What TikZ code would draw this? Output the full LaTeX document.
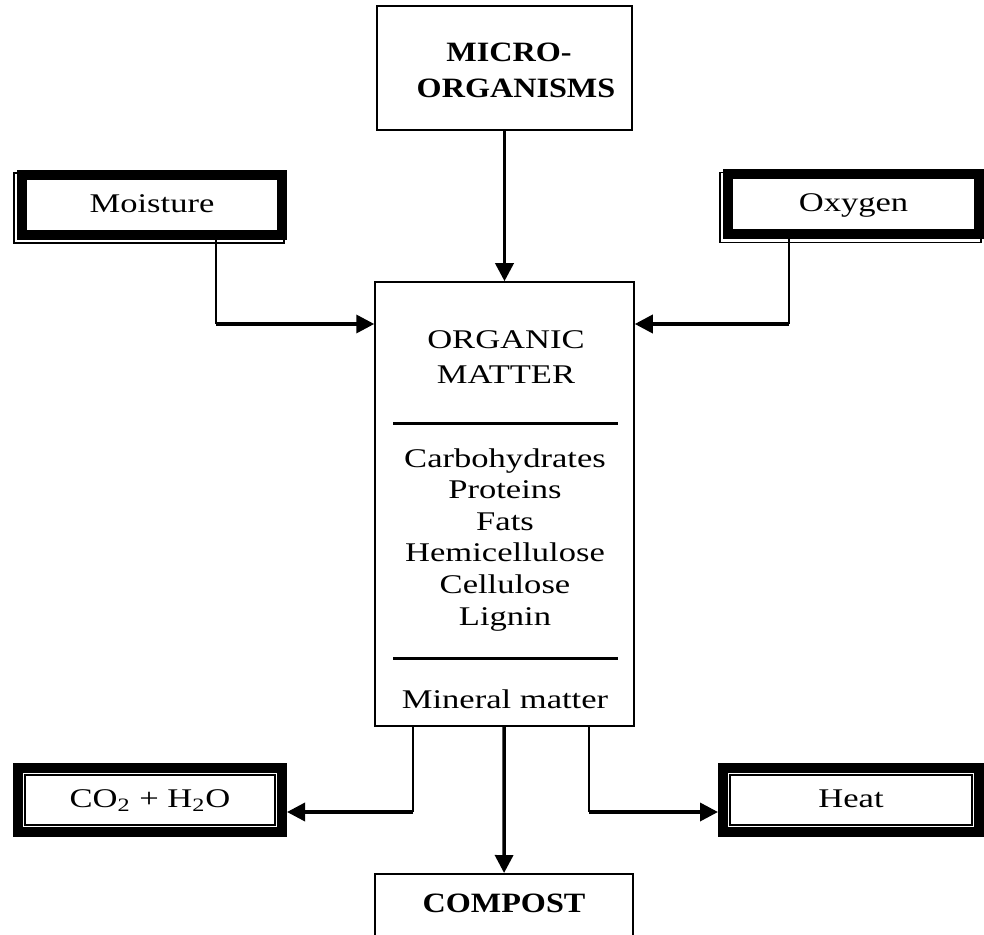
\documentclass[tikz,border=0pt]{standalone}
\usepackage{fontspec}
\setmainfont{Liberation Serif}[FakeStretch=1.28]
\newfontfamily\headfont{Liberation Serif}[FakeStretch=1.15]
\usetikzlibrary{arrows.meta}
\tikzstyle{plainbox} = [rectangle, draw=black, line width=.75pt, text centered]
\tikzstyle{framebox} = [rectangle, draw=black, line width=5pt, minimum height=30pt, text height=.75em, text depth=0pt, font=\fontsize{13.5}{16}\selectfont]
\tikzstyle{txt} = [inner sep=0, anchor=base, font=\fontsize{13.5}{16}\selectfont]
\tikzstyle{head} = [inner sep=0, anchor=base, font=\headfont\bfseries\fontsize{14}{18}\selectfont]
\tikzstyle{arrow} = [line width=1.75pt,-{Triangle[length=9pt,width=9pt]}]
\tikzstyle{feed} = [line width=.75pt]
\tikzstyle{divider} = [line width=1.5pt]

\begin{document}
\begin{tikzpicture}[x=.5pt,y=-.5pt]
\useasboundingbox (0,0) rectangle (984,935);
\clip (0,0) rectangle (984,935);
% centre column
\node[plainbox,minimum width=127.5pt,minimum height=62pt] (micro) at (504.5,68) {};
\node[head] (microA) at (509,62) {MICRO-};
\node[head] (microB) at (516,98) {ORGANISMS};
\node[plainbox,minimum width=129.5pt,minimum height=222pt] (main) at (504.5,504) {};
\node[txt] (orgA) at (506,349) {ORGANIC};
\node[txt] (orgB) at (506,383) {MATTER};
\foreach \t [count=\i] in {Carbohydrates,Proteins,Fats,Hemicellulose,Cellulose,Lignin}
  \node[txt] (part\i) at (505,{467+31.6*(\i-1)}) {\t};
\node[txt] (mineral) at (505,708) {Mineral matter};
\draw[divider] (393,423) -- (618,423);
\draw[divider] (393,658) -- (618,658);
\node[plainbox,anchor=north,minimum width=129pt,text height=10pt,text depth=30pt,inner ysep=9.5pt,font=\headfont\bfseries\fontsize{14}{18}\selectfont] (compost) at (504,873) {COMPOST};
% framed boxes
\node[framebox,minimum width=130pt] (moist) at (152,205) {Moisture};
\node[framebox,minimum width=125.5pt] (oxy) at (853.5,204.5) {Oxygen};
\node[framebox,minimum width=132pt,minimum height=32pt] (co2) at (150,800) {CO\textsubscript{2} + H\textsubscript{2}O};
\node[framebox,minimum width=128pt,minimum height=32pt] (heat) at (851,800) {Heat};
\foreach \n in {moist,oxy}
  \draw[feed] ([shift={(-3,3)}]\n.south west) rectangle ([shift={(-3,3)}]\n.north east);
\foreach \n in {co2,heat}
  \draw[feed] ([shift={(12,-12)}]\n.south west) rectangle ([shift={(-12,12)}]\n.north east);
% connectors
\coordinate (mbend) at (216,324);
\coordinate (obend) at (789,324);
\coordinate (cbend) at (413,812);
\coordinate (hbend) at (589,812);
\draw[arrow] (micro) -- (main);
\draw[arrow] (main) -- (compost);
\draw[feed] (moist.south -| mbend) -- (mbend);
\draw[arrow] (mbend) -- (main.west |- mbend);
\draw[feed] (oxy.south -| obend) -- (obend);
\draw[arrow] (obend) -- (main.east |- obend);
\draw[feed] (main.south -| cbend) -- (cbend);
\draw[arrow] (cbend) -- (co2.east |- cbend);
\draw[feed] (main.south -| hbend) -- (hbend);
\draw[arrow] (hbend) -- (heat.west |- hbend);
\end{tikzpicture}
\end{document}
